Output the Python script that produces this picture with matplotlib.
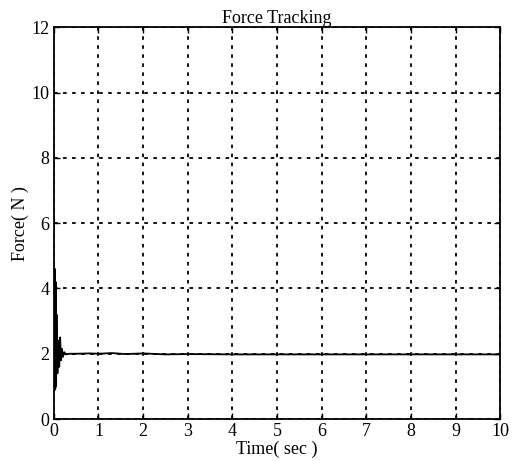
import matplotlib
matplotlib.use("Agg")
import matplotlib.pyplot as plt

# Data
time_s = [0.0, 0.01, 0.02, 0.03, 0.04, 0.05, 0.06, 0.08, 0.10, 0.12, 0.14, 0.16,
          0.18, 0.20, 0.23, 0.27, 0.35, 0.50, 0.80, 1.00, 1.30, 1.60, 2.00, 2.50,
          3.0, 4.0, 5.0, 6.0, 7.0, 8.0, 9.0, 10.0]
force_n = [4.7, 1.0, 4.6, 0.9, 4.2, 1.0, 3.2, 1.4, 2.4, 1.6, 2.5, 1.8,
           2.15, 1.9, 2.05, 1.98, 2.0, 2.0, 2.01, 2.0, 2.02, 1.99, 2.01, 1.98,
           1.99, 1.98, 1.98, 1.98, 1.98, 1.98, 1.98, 1.98]
x_ticks = [0, 1, 2, 3, 4, 5, 6, 7, 8, 9, 10]
y_ticks = [0, 2, 4, 6, 8, 10, 12]

plt.rcParams['font.family'] = ['Liberation Serif', 'DejaVu Serif']

fig = plt.figure(figsize=(5.13, 4.61), dpi=100)
ax = fig.add_axes([0.105, 0.091, 0.870, 0.850])
ax.plot(time_s, force_n, color='black', linewidth=1.3)
ax.set_xlim(0, 10)
ax.set_ylim(0, 12)
ax.set_xticks(x_ticks)
ax.set_yticks(y_ticks)
ax.grid(True, color='black', linestyle=(0, (2, 3)), linewidth=1.3)
ax.tick_params(direction='in', length=4, width=1, labelsize=13, top=True, right=True, pad=3)
for s in ax.spines.values():
    s.set_linewidth(1.3)
ax.set_title('Force Tracking', fontsize=13, pad=3)
ax.set_xlabel('Time( sec )', fontsize=13, labelpad=0)
ax.set_ylabel('Force( N )', fontsize=13, labelpad=2)
fig.savefig('out.png', dpi=100)
